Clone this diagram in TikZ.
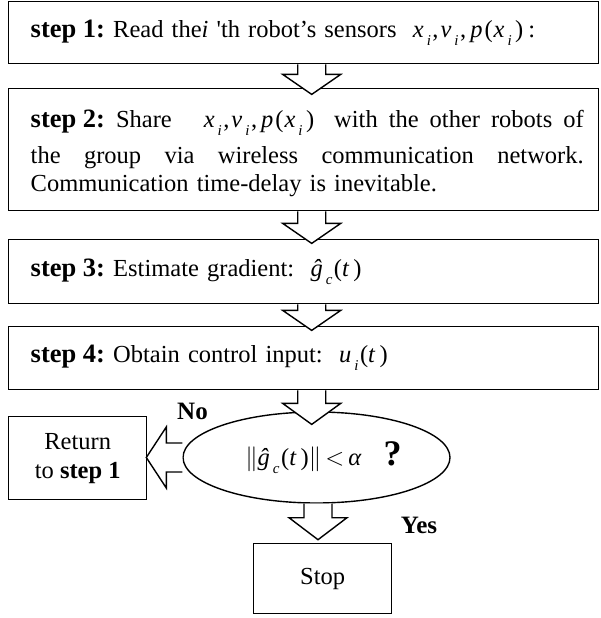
\documentclass[tikz,border=0pt]{standalone}
\usepackage{fontspec}
\setmainfont{Liberation Serif}
\usetikzlibrary{shapes.geometric,calc}
\frenchspacing
\newcommand\sbi[1]{\hspace{3pt}\raisebox{-0.33em}{\fontsize{15}{15}\selectfont\textit{#1}}\hspace{1.5pt}}
\newcommand\stp[1]{{\fontsize{26.5}{28}\selectfont\bfseries step\hspace{0.25em}#1:}}
\newcommand\xvp{\textit{x}\sbi{i},\hspace{2pt}\textit{v}\sbi{i},\hspace{4pt}\textit{p}\hspace{2pt}(\hspace{1pt}\textit{x}\sbi{i}\hspace{2pt})}
\newcommand\jline[1]{\makebox[553pt][s]{\spaceskip=0pt\relax #1}}
\begin{document}
\begin{tikzpicture}[x=1pt,y=-1pt,
  box/.style={draw,line width=1.4pt,inner sep=0pt},
  stepbox/.style={box,anchor=north west,minimum width=590pt,text width=546pt,align=left,font=\fontsize{24.5}{28}\selectfont},
  smallbox/.style={box,anchor=north west,align=center,font=\fontsize{24.5}{29}\selectfont},
  blk/.style={draw,fill=white,line width=1.4pt,line join=miter},
  lbl/.style={font=\fontsize{25}{25}\selectfont\bfseries,inner sep=0pt,anchor=base}]
\path[use as bounding box] (0,0) rectangle (601,618);

\node[stepbox,minimum height=62pt] (s1) at (8,1)
  {\stp{1} Read the\textit{i} \textquotesingle th robot’s sensors \ \xvp\hspace{5pt}:};
\node[stepbox,minimum height=122pt] (s2) at (8,88)
  {\jline{\rule{0pt}{24pt}\stp{2} Share\hspace{32pt}\xvp\hspace{20pt}with the other robots of}\\[8pt]
   \jline{the group via wireless communication network.}\\
   Communication time-delay is inevitable.};
\node[stepbox,minimum height=64pt] (s3) at (8,239)
  {\stp{3} Estimate gradient: \ \textit{ĝ}\sbi{c}(\textit{t}\,)};
\node[stepbox,minimum height=63pt] (s4) at (8,326)
  {\stp{4} Obtain control input: \ \textit{u}\sbi{i}(\textit{t}\,)};
\node[box,ellipse,minimum width=267pt,minimum height=91pt,font=\fontsize{24.5}{25}\selectfont] (e) at (316.5,457.5)
  {\hspace*{14pt}$\|$\textit{ĝ}\sbi{c}(\textit{t}\,)$\|$\,$<$\,\textit{α}\hspace{0.9em}{\fontsize{36}{36}\selectfont\bfseries ?}};
\node[smallbox,minimum width=138pt,minimum height=83pt] (ret) at (8,416) {Return\\to \textbf{step 1}};
\node[smallbox,minimum width=138pt,minimum height=70pt] (stop) at (253,543) {Stop};
\node[lbl] (no) at (192.5,419) {No};
\node[lbl] (yes) at (419,533) {Yes};

% block arrows
\draw[blk] ($(s1.south)+(-6,0)$) -- ++(0,10) -- ++(-15,0) -- ++(29,20) -- ++(29,-20) -- ++(-15,0) -- ++(0,-10);
\draw[blk] ($(s2.south)+(-6,0)$) -- ++(0,12) -- ++(-15,0) -- ++(29,20) -- ++(29,-20) -- ++(-15,0) -- ++(0,-12);
\draw[blk] ($(s3.south)+(-6,0)$) -- ++(0,6) -- ++(-15,0) -- ++(29,20) -- ++(29,-20) -- ++(-15,0) -- ++(0,-6);
\draw[blk] ($(s4.south)+(-6,0)$) -- ++(0,13) -- ++(-15,0) -- ++(29,21) -- ++(29,-21) -- ++(-15,0) -- ++(0,-13);
\draw[blk] ($(e.west)+(0,-14.5)$) -- ++(-16,0) -- ++(0,-16) -- ++(-20,30.5) -- ++(20,30.5) -- ++(0,-16) -- ++(16,0);
\draw[blk] ($(e.south)+(-12.5,0)$) -- ++(0,14) -- ++(-15,0) -- ++(29,22) -- ++(29,-22) -- ++(-15,0) -- ++(0,-14);
\end{tikzpicture}
\end{document}
